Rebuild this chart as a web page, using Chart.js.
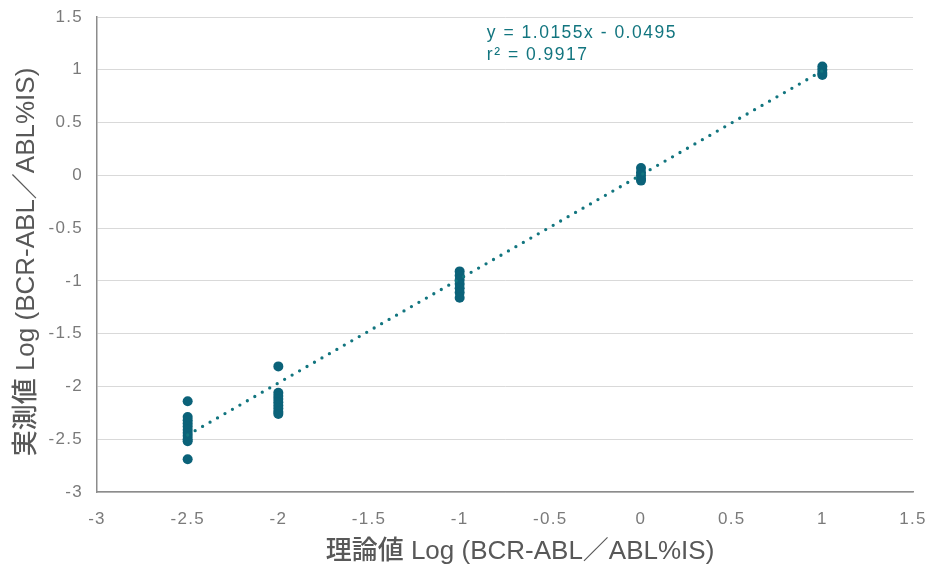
<!DOCTYPE html>
<html>
<head>
<meta charset="utf-8">
<script src="https://cdn.jsdelivr.net/npm/chart.js@4"></script>
<style>
  html, body { margin: 0; padding: 0; background: #fff; }
  #wrap { width: 930px; height: 568px; position: relative; }
</style>
</head>
<body>
<div id="wrap"><canvas id="c"></canvas></div>
<script>
// theoretical log values and measured log values per level
const levels = [-2.5, -2, -1, 0, 1];
const measured = [
  [-2.14, -2.29, -2.32, -2.35, -2.38, -2.41, -2.44, -2.47, -2.50, -2.52, -2.69],
  [-1.81, -2.06, -2.09, -2.12, -2.15, -2.18, -2.21, -2.24, -2.26],
  [-0.91, -0.95, -0.99, -1.03, -1.07, -1.11, -1.16],
  [0.07, 0.03, 0.0, -0.03, -0.05],
  [1.03, 1.0, 0.97, 0.95]
];
const trendX = [-2.5, 1];
const trendY = [-2.46, 0.99];
const eqLines = ['y = 1.0155x - 0.0495', 'r² = 0.9917'];
const xTitle = '理論値 Log (BCR-ABL／ABL%IS)';
const yTitle = '実測値 Log (BCR-ABL／ABL%IS)';

const POINT = '#0b6279';
const LINE = '#12757f';
const TICK = '#7a7a7a';
const TITLE = '#585858';
const SANS = '"Liberation Sans", Arial, sans-serif';
const TITLE_FONT = '500 26px "Liberation Sans", "Noto Sans CJK JP", sans-serif';

const pts = [];
levels.forEach((x, i) => measured[i].forEach(y => pts.push({ x, y })));

// tracking on tick labels, equation text and axis titles
const texts = {
  id: 'texts',
  beforeDraw(chart) {
    chart.ctx.letterSpacing = '1.3px';
  },
  afterDraw(chart) {
    const { ctx, scales } = chart;
    ctx.save();
    ctx.letterSpacing = '1.5px';
    ctx.fillStyle = LINE;
    ctx.font = '17.5px ' + SANS;
    ctx.textBaseline = 'middle';
    ctx.textAlign = 'left';
    const x = scales.x.getPixelForValue(-0.85);
    ctx.fillText(eqLines[0], x, scales.y.getPixelForValue(1.35));
    ctx.fillText(eqLines[1], x, scales.y.getPixelForValue(1.14));

    ctx.letterSpacing = '0px';
    ctx.fillStyle = TITLE;
    ctx.font = TITLE_FONT;
    ctx.textAlign = 'center';
    ctx.fillText(xTitle, 520, 552);
    ctx.translate(27, 262);
    ctx.rotate(-Math.PI / 2);
    ctx.fillText(yTitle, 0, 0);
    ctx.restore();
    ctx.letterSpacing = '0px';
  }
};

const fmt = v => String(v);

new Chart(document.getElementById('c'), {
  type: 'scatter',
  data: {
    datasets: [
      {
        data: pts,
        backgroundColor: POINT,
        borderColor: POINT,
        pointRadius: 5,
        pointHoverRadius: 5,
        borderWidth: 0,
        order: 1
      },
      {
        type: 'line',
        data: trendX.map((x, i) => ({ x, y: trendY[i] })),
        borderColor: LINE,
        borderWidth: 3.3,
        borderDash: [0, 8.6],
        borderCapStyle: 'round',
        pointRadius: 0,
        fill: false,
        order: 0
      }
    ]
  },
  options: {
    responsive: true,
    maintainAspectRatio: false,
    animation: false,
    layout: { padding: { top: 17, right: 17, left: 0, bottom: 0 } },
    plugins: { legend: { display: false }, tooltip: { enabled: false } },
    scales: {
      x: {
        type: 'linear',
        min: -3, max: 1.5,
        ticks: { stepSize: 0.5, color: TICK, font: { family: SANS, size: 17 }, padding: 17, callback: fmt },
        grid: { display: false, drawTicks: false },
        border: { color: '#8c8c8c', width: 1.5 },
        afterFit(s) { s.height = 76; s.paddingLeft = 0; s.paddingRight = 0; }
      },
      y: {
        min: -3, max: 1.5,
        ticks: { stepSize: 0.5, color: TICK, font: { family: SANS, size: 17 }, padding: 14, callback: fmt },
        grid: { color: '#d9d9d9', lineWidth: 1, drawTicks: false },
        border: { color: '#8c8c8c', width: 1.5 },
        afterFit(s) { s.width = 97; s.paddingTop = 0; s.paddingBottom = 0; }
      }
    }
  },
  plugins: [texts]
});
</script>
</body>
</html>
